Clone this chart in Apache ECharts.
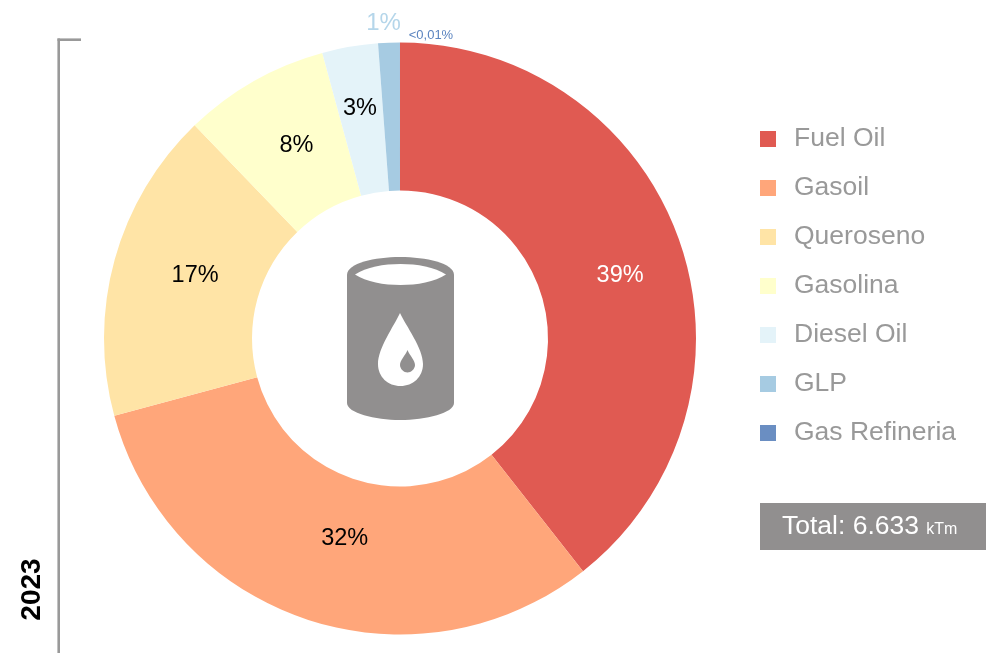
<!DOCTYPE html>
<html>
<head>
<meta charset="utf-8">
<style>html,body{margin:0;padding:0;background:#fff}#c{width:986px;height:653px}</style>
<script src="https://cdn.jsdelivr.net/npm/echarts@6/dist/echarts.min.js"></script>
</head>
<body>
<div id="c"></div>
<script>
const categories = ['Fuel Oil', 'Gasoil', 'Queroseno', 'Gasolina', 'Diesel Oil', 'GLP', 'Gas Refineria'];
const values = [2613, 2083, 1128, 529, 202, 78, 0.5];
const percentLabels = ['39%', '32%', '17%', '8%', '3%', '1%', '<0,01%'];
const yearLabel = '2023';
const totalLabel = 'Total: 6.633';
const totalUnit = 'kTm';

const colors = ['#e05a52', '#ffa67a', '#ffe4a6', '#ffffcc', '#e4f3f9', '#a6cbe2', '#6a8ec2'];
const labelColors = ['#ffffff', '#000000', '#000000', '#000000', '#000000', '#b5d6ea', '#5b84c0'];
const labelSizes = [23.5, 23.5, 23.5, 23.5, 23.5, 24, 13];
const labelOffsets = [[7.5, 11], [15.5, -14], [12, -3], [7.5, 3], [-2, -8], [-8, -90], [31, -78.5]];
const FONT = 'Arial, "Liberation Sans", sans-serif';
const GRAY = '#918f8f';

echarts.graphic.registerShape('barrelBody', echarts.graphic.extendPath(
  'M347 275 C347 263 375 257 400 257 C426 257 454 263 454 275 L454 403 C454 413 426 420 400 420 C375 420 347 413 347 403 Z'));
echarts.graphic.registerShape('barrelHole', echarts.graphic.extendPath(
  'M355 274.5 C366 267 384 264 400.5 264 C417 264 435 267 446 274.5 C435 282 417 285 400.5 285 C384 285 366 282 355 274.5 Z'));
echarts.graphic.registerShape('dropLarge', echarts.graphic.extendPath(
  'M400 313 C406 326 423 348 423 364 C423 377 413 386 400.5 386 C388 386 378 377 378 364 C378 348 394 326 400 313 Z'));
echarts.graphic.registerShape('dropSmall', echarts.graphic.extendPath(
  'M407.5 350 C410 356 415 360 415 365 C415 369 411 372.5 407.5 372.5 C404 372.5 400 369 400 365 C400 360 405 356 407.5 350 Z'));

const chart = echarts.init(document.getElementById('c'), null, { renderer: 'canvas' });
chart.setOption({
  animation: false,
  color: colors,
  legend: {
    orient: 'vertical',
    left: 760,
    top: 124,
    padding: 0,
    itemWidth: 16,
    itemHeight: 16,
    itemGap: 19,
    icon: 'rect',
    selectedMode: false,
    textStyle: { color: '#999999', fontSize: 26.5, fontFamily: FONT, lineHeight: 30, padding: [0, 0, 0, 13] },
    data: categories
  },
  series: [{
    type: 'pie',
    center: [400, 338.5],
    radius: [148, 296],
    startAngle: 90,
    clockwise: true,
    silent: true,
    avoidLabelOverlap: false,
    label: { show: true, position: 'inside', fontFamily: FONT },
    labelLine: { show: false },
    data: categories.map((name, i) => ({
      name,
      value: values[i],
      label: {
        formatter: percentLabels[i],
        color: labelColors[i],
        fontSize: labelSizes[i],
        offset: labelOffsets[i]
      }
    }))
  }],
  graphic: [
    { type: 'line', shape: { x1: 58.7, y1: 38.5, x2: 58.7, y2: 653 }, style: { stroke: '#999999', lineWidth: 2.6 } },
    { type: 'line', shape: { x1: 57.5, y1: 39.7, x2: 81, y2: 39.7 }, style: { stroke: '#999999', lineWidth: 2.6 } },
    {
      type: 'text', x: 32, y: 589.5, rotation: Math.PI / 2,
      style: { text: yearLabel, fill: '#000', font: 'bold 28px ' + FONT, align: 'center', verticalAlign: 'middle' }
    },
    { type: 'barrelBody', style: { fill: GRAY } },
    { type: 'barrelHole', style: { fill: '#fff' } },
    { type: 'dropLarge', style: { fill: '#fff' } },
    { type: 'dropSmall', style: { fill: GRAY } },
    { type: 'rect', shape: { x: 760, y: 503, width: 226, height: 47 }, style: { fill: GRAY } },
    {
      type: 'text', x: 782, y: 527,
      style: {
        text: '{a|' + totalLabel + '} {b|' + totalUnit + '}',
        verticalAlign: 'middle',
        align: 'left',
        rich: {
          a: { fill: '#fff', fontSize: 26.5, fontFamily: FONT },
          b: { fill: '#fff', fontSize: 16, fontFamily: FONT, padding: [6, 0, 0, 4] }
        }
      }
    }
  ]
});
</script>
</body>
</html>
